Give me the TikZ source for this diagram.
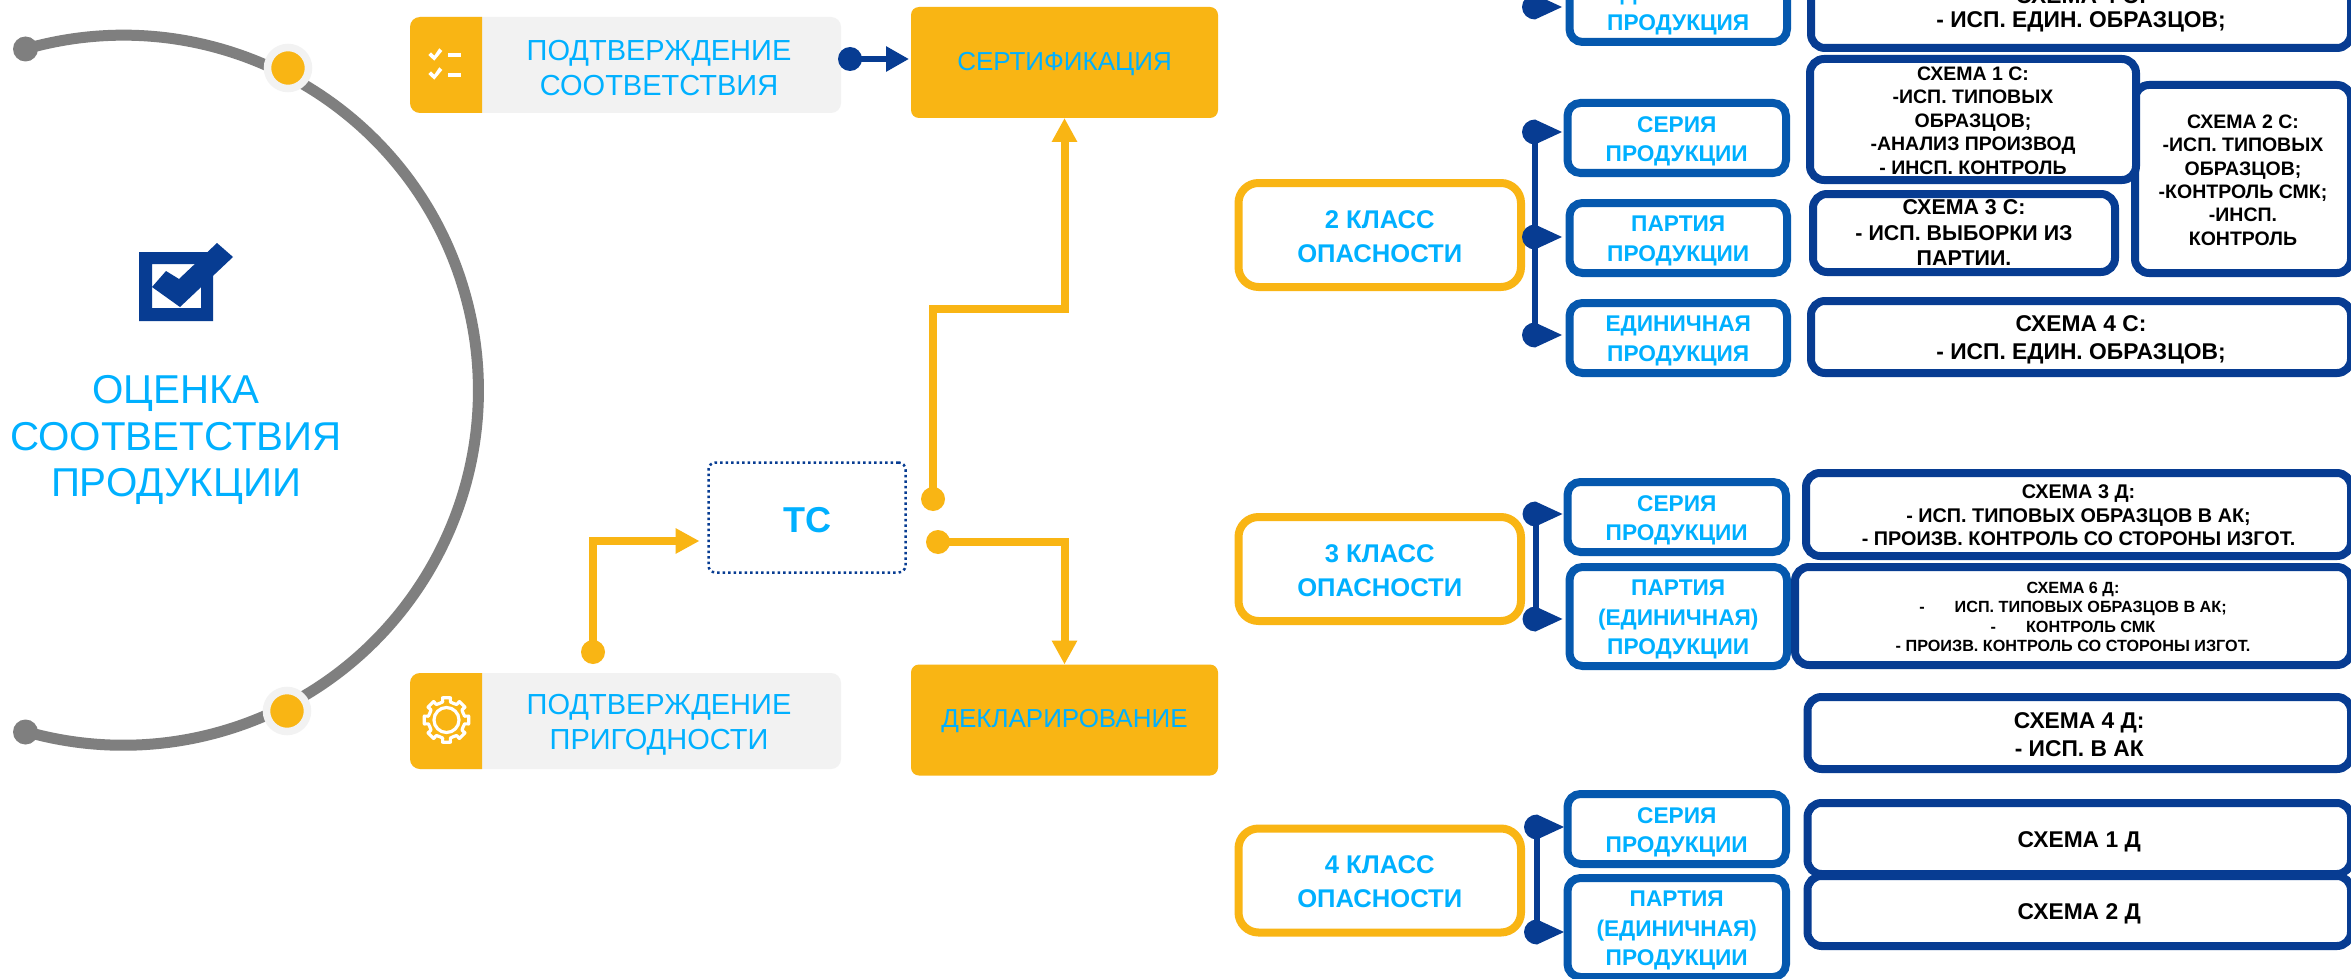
\documentclass[tikz,border=0pt]{standalone}
\usepackage{fontspec}
\setmainfont{Liberation Sans}
\usetikzlibrary{arrows.meta}
\definecolor{tyellow}{HTML}{F9B514}
\definecolor{tblue}{HTML}{00B0FF}
\definecolor{tmid}{HTML}{0558AE}
\definecolor{tdark}{HTML}{073C92}
\definecolor{tgray}{HTML}{7F7F7F}
\definecolor{tlight}{HTML}{F2F2F2}
\newcommand\fs[2]{\fontsize{#1pt}{#2pt}\selectfont}
% text block that can be moved down by #1 without moving its box
\newcommand\lowered[2]{\makebox[0pt]{\raisebox{-#1pt}[\height][\depth]{\parbox{640pt}{\centering #2}}}}
\newcommand\bxx[8][3]{%
  \pgfmathsetmacro\bw{#6-#4-8}\pgfmathsetmacro\bh{#7-#5-8}%
  \pgfmathsetmacro\cx{(#4+#6)/2}\pgfmathsetmacro\cy{(#5+#7)/2}%
  \node[#3, minimum width=\bw pt, minimum height=\bh pt] (#2) at (\cx,\cy) {\lowered{#1}{#8}};}
\newcommand\marker[3]{%
  \coordinate (#1) at (#2,#3);
  \fill[tdark] ([xshift=27pt]#1) -- ([yshift=12.5pt]#1) arc[start angle=90,end angle=270,x radius=13pt,y radius=12.5pt] -- cycle;}
\tikzset{
  base/.style={inner sep=0pt, outer sep=0pt, align=center},
  classbox/.style={base, draw=tyellow, line width=8pt, fill=white, rounded corners=20pt, text=tblue, font=\bfseries\fs{25.6}{34}},
  kindbox/.style={base, draw=tmid, line width=8pt, fill=white, rounded corners=13pt, text=tblue, font=\bfseries\fs{22.7}{29.3}},
  schemebox/.style={base, draw=tdark, line width=8pt, fill=white, rounded corners=14pt, text=black, font=\bfseries\fs{19.5}{23.4}},
  bigscheme/.style={schemebox, font=\bfseries\fs{22.8}{28}},
  tagtext/.style={base, text=tblue, font=\fs{29}{34.5}},
  solidbox/.style={base, fill=tyellow, rounded corners=8pt, text=tblue, font=\fs{26}{30}, minimum width=307pt, minimum height=111pt},
  tcbox/.style={base, draw=tdark, line width=2.5pt, dash pattern=on 2.5pt off 3pt, rounded corners=7pt, text=tblue, font=\bfseries\fs{36}{40}},
  ydot/.style={circle, fill=tyellow, inner sep=0pt, minimum size=24pt},
  bdot/.style={circle, fill=tdark, inner sep=0pt, minimum size=24pt},
  yarrow/.style={draw=tyellow, line width=8pt, -{Triangle[length=24pt,width=24pt]}},
  stemline/.style={draw=tdark, line width=6pt},
}
\begin{document}
\begin{tikzpicture}[x=1pt,y=-1pt]
\useasboundingbox (0,0) rectangle (2351,979);
\fill[white] (0,0) rectangle (2351,979);
\clip (0,0) rectangle (2351,979);
% big arc
\node[circle, fill=tgray, inner sep=0pt, minimum size=25pt] (arcA) at (25.5,49) {};
\node[circle, fill=tgray, inner sep=0pt, minimum size=25pt] (arcB) at (25.5,732) {};
\draw[tgray, line width=11pt] (arcA.center) arc[start angle=106,end angle=-106,radius=355pt];
\node[circle, fill=tyellow, draw=tlight, line width=7.5pt, inner sep=0pt, minimum size=41pt] (arcC) at (288,68) {};
\node[circle, fill=tyellow, draw=tlight, line width=7.5pt, inner sep=0pt, minimum size=41pt] (arcD) at (287,711) {};
% check icon
\fill[tdark, even odd rule] (139,252) rectangle (213,321) (152,264) rectangle (201,308);
\fill[tdark] (217,243) -- (233,257) -- (180,307) -- (152,287) -- (166,271) -- (179,279) -- cycle;
\node[base, text=tblue, font=\fs{40.3}{46.5}] (title) at (176,440) {ОЦЕНКА\\СООТВЕТСТВИЯ\\ПРОДУКЦИИ};
% tags
\fill[tlight, rounded corners=10pt] (410,17) rectangle (841,113);
\fill[tyellow] (482,17) [rounded corners=10pt] -- (410,17) -- (410,113) [sharp corners] -- (482,113) -- cycle;
\node[tagtext] (tagA) at (659,68) {ПОДТВЕРЖДЕНИЕ\\СООТВЕТСТВИЯ};
\fill[tlight, rounded corners=10pt] (410,673) rectangle (841,769);
\fill[tyellow] (482,673) [rounded corners=10pt] -- (410,673) -- (410,769) [sharp corners] -- (482,769) -- cycle;
\node[tagtext] (tagB) at (659,725) {ПОДТВЕРЖДЕНИЕ\\ПРИГОДНОСТИ};
% checklist glyphs
\foreach \yy in {0,19}{
  \fill[white] (428.3,55+\yy) -- (431,52.3+\yy) -- (434.3,55.7+\yy) -- (439.3,48.3+\yy) -- (442.3,51+\yy) -- (434.3,60.7+\yy) -- cycle;}
\fill[white] (447.7,53.3) rectangle (461,57.3);
\fill[white] (447.7,72.7) rectangle (461,76.7);
% gear glyph
\begin{scope}[shift={(446.5,720)}]
\draw[white, line width=3.2pt, line join=round] (-22.5:18)
  \foreach \a in {0,45,...,315}{ -- (\a-22.5:18) -- (\a-12:18.5) -- (\a-10:22.5) -- (\a+10:22.5) -- (\a+12:18.5)} -- cycle;
\draw[white, line width=3.2pt] (0,0) circle[radius=12.5pt];
\end{scope}
% main boxes
\node[solidbox] (cert) at (1064.5,62.5) {\lowered{1.5}{СЕРТИФИКАЦИЯ}};
\node[solidbox] (decl) at (1064.5,720) {\lowered{1.5}{ДЕКЛАРИРОВАНИЕ}};
\node[tcbox, minimum width=197pt, minimum height=110pt] (tc) at (807,517.5) {\lowered{3}{ТС}};
% connectors
\node[bdot] (dotA) at (850,59) {};
\coordinate (dotAend) at (cert.west |- dotA);
\draw[tdark, line width=6.5pt, -{Triangle[length=23pt,width=24pt]}] (dotA.center) -- ([xshift=-2pt]dotAend);
\node[ydot] (dotB) at (593,652) {};
\draw[yarrow] (dotB.center) |- ([xshift=-9pt]tc.west |- 0,541);
\node[ydot] (dotC) at (933,499) {};
\draw[yarrow] (dotC.center) -- (933,309) -| (cert.south);
\node[ydot] (dotD) at (938,542) {};
\draw[yarrow] (dotD.center) -| (decl.north);
% class 2
\bxx[1.5]{cl2}{classbox}{1234.5}{179}{1525}{291}{2 КЛАСС\\ОПАСНОСТИ}
\marker{m0}{1535}{7}
\marker{m21}{1535}{132}
\marker{m22}{1535}{237}
\marker{m23}{1535}{335}
\draw[stemline] (m21) -- (m23);
\bxx{k0}{kindbox}{1565.5}{-32}{1791}{46}{ЕДИНИЧНАЯ\\ПРОДУКЦИЯ}
\bxx[-1.25]{s0}{schemebox, font=\bfseries\fs{22.8}{23.5}}{1807}{-30}{2355}{52}{СХЕМА 4 С:\\- ИСП. ЕДИН. ОБРАЗЦОВ;}
\bxx{k21}{kindbox}{1563.5}{99}{1790}{177}{СЕРИЯ\\ПРОДУКЦИИ}
\bxx{k22}{kindbox}{1565.5}{199}{1791}{277}{ПАРТИЯ\\ПРОДУКЦИИ}
\bxx{k23}{kindbox}{1565.5}{299}{1791}{377}{ЕДИНИЧНАЯ\\ПРОДУКЦИЯ}
\bxx[1]{s22}{schemebox}{2131}{81}{2355}{277}{СХЕМА 2 С:\\-ИСП. ТИПОВЫХ\\ОБРАЗЦОВ;\\-КОНТРОЛЬ СМК;\\-ИНСП.\\КОНТРОЛЬ}
\bxx[1]{s21}{schemebox}{1806}{55}{2140}{184}{СХЕМА 1 С:\\-ИСП. ТИПОВЫХ\\ОБРАЗЦОВ;\\-АНАЛИЗ ПРОИЗВОД\\- ИНСП. КОНТРОЛЬ}
\bxx[0]{s23}{schemebox, font=\bfseries\fs{21.4}{25.5}}{1809}{190}{2119}{276}{СХЕМА 3 С:\\- ИСП. ВЫБОРКИ ИЗ\\ПАРТИИ.}
\bxx{s24}{bigscheme}{1807}{297}{2355}{377}{СХЕМА 4 С:\\- ИСП. ЕДИН. ОБРАЗЦОВ;}
% class 3
\bxx[1.5]{cl3}{classbox}{1234.5}{513}{1525}{625}{3 КЛАСС\\ОПАСНОСТИ}
\marker{m31}{1535.5}{514}
\marker{m32}{1535.5}{619}
\draw[stemline] (m31) -- (m32);
\bxx{k31}{kindbox}{1563.5}{478}{1790}{556}{СЕРИЯ\\ПРОДУКЦИИ}
\bxx{k32}{kindbox}{1565.5}{563}{1791}{670}{ПАРТИЯ\\(ЕДИНИЧНАЯ)\\ПРОДУКЦИИ}
\bxx[1]{s31}{schemebox, font=\bfseries\fs{19.8}{23.4}}{1802}{469}{2355}{560}{СХЕМА 3 Д:\\- ИСП. ТИПОВЫХ ОБРАЗЦОВ В АК;\\- ПРОИЗВ. КОНТРОЛЬ СО СТОРОНЫ ИЗГОТ.}
\bxx[1]{s32}{schemebox, font=\bfseries\fs{16.2}{19.3}}{1791}{563}{2355}{669}{СХЕМА 6 Д:\\-\hspace{30pt}ИСП. ТИПОВЫХ ОБРАЗЦОВ В АК;\\-\hspace{30pt}КОНТРОЛЬ СМК\\- ПРОИЗВ. КОНТРОЛЬ СО СТОРОНЫ ИЗГОТ.}
\bxx[2]{s33}{bigscheme}{1803.5}{693}{2355}{773}{СХЕМА 4 Д:\\- ИСП. В АК}
% class 4
\bxx[1.5]{cl4}{classbox}{1234.5}{824.5}{1525}{936.5}{4 КЛАСС\\ОПАСНОСТИ}
\marker{m41}{1537}{827}
\marker{m42}{1537}{932}
\draw[stemline] (m41) -- (m42);
\bxx{k41}{kindbox}{1563.5}{790}{1790}{868}{СЕРИЯ\\ПРОДУКЦИИ}
\bxx{k42}{kindbox}{1563.5}{874}{1790}{981}{ПАРТИЯ\\(ЕДИНИЧНАЯ)\\ПРОДУКЦИИ}
\bxx{s41}{bigscheme}{1803.5}{799}{2355}{878}{СХЕМА 1 Д}
\bxx{s42}{bigscheme}{1803.5}{872}{2355}{950}{СХЕМА 2 Д}
\end{tikzpicture}
\end{document}
